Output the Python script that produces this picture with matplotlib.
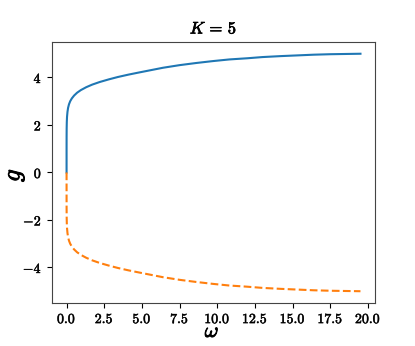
import matplotlib
matplotlib.use("Agg")
import matplotlib.pyplot as plt
import matplotlib.patheffects as pe

plt.rcParams['mathtext.fontset'] = 'cm'
plt.rcParams['font.family'] = 'serif'
plt.rcParams['font.serif'] = ['DejaVu Serif']

omega = [0.0, 0.0005, 0.002, 0.006, 0.015, 0.03, 0.06, 0.1, 0.16, 0.24, 0.35, 0.5,
         0.7, 0.95, 1.3, 1.7, 2.2, 2.8, 3.4, 4.1, 4.8, 5.6, 6.4, 7.5, 8.6,
         9.7, 10.8, 12.0, 13.0, 14.2, 15.3, 16.4, 17.5, 18.5, 19.5]
g_upper = [0.0, 1.0, 1.5, 1.85, 2.12, 2.34, 2.55, 2.72, 2.87, 3.0, 3.12, 3.24,
           3.36, 3.47, 3.59, 3.70, 3.81, 3.92, 4.02, 4.12, 4.21, 4.31, 4.41, 4.52, 4.61,
           4.69, 4.76, 4.81, 4.86, 4.90, 4.93, 4.96, 4.98, 4.99, 5.0]
g_lower = [-v for v in g_upper]

xticks = [0.0, 2.5, 5.0, 7.5, 10.0, 12.5, 15.0, 17.5, 20.0]
yticks = [-4, -2, 0, 2, 4]

bold = [pe.withStroke(linewidth=0.7, foreground='black')]

W, H = 415, 346
fig = plt.figure(figsize=(W / 100, H / 100), dpi=100)
ax = fig.add_axes([0.125, 0.124, 0.779, 0.755])
ax.plot(omega, g_upper, color='#1f77b4', lw=1.5)
ax.plot(omega, g_lower, color='#ff7f0e', lw=1.5, ls='--')

ax.set_xticks(xticks)
ax.set_xticklabels([r'$\mathbf{%.1f}$' % t for t in xticks], fontsize=10)
ax.set_yticks(yticks)
ax.set_yticklabels([(r'$\mathbf{-%d}$' % -t) if t < 0 else (r'$\mathbf{%d}$' % t) for t in yticks], fontsize=10)
ax.tick_params(axis='x', pad=3)
for lab in ax.get_xticklabels() + ax.get_yticklabels():
    lab.set_path_effects([pe.withStroke(linewidth=0.4, foreground='#222222')])
fig.text(212 / W, 1 - 337 / H, r'$\omega$', fontsize=15, path_effects=bold,
         ha='center', va='baseline')
fig.text(15 / W, 1 - 175 / H, r'$g$', fontsize=18, path_effects=bold,
         ha='center', va='center', rotation=90)
ax.set_title(r'$K\,=\,5$', fontsize=12, path_effects=[pe.withStroke(linewidth=0.5, foreground='black')])
for s in ax.spines.values():
    s.set_color('#444444')
fig.savefig('out.png', dpi=100)
